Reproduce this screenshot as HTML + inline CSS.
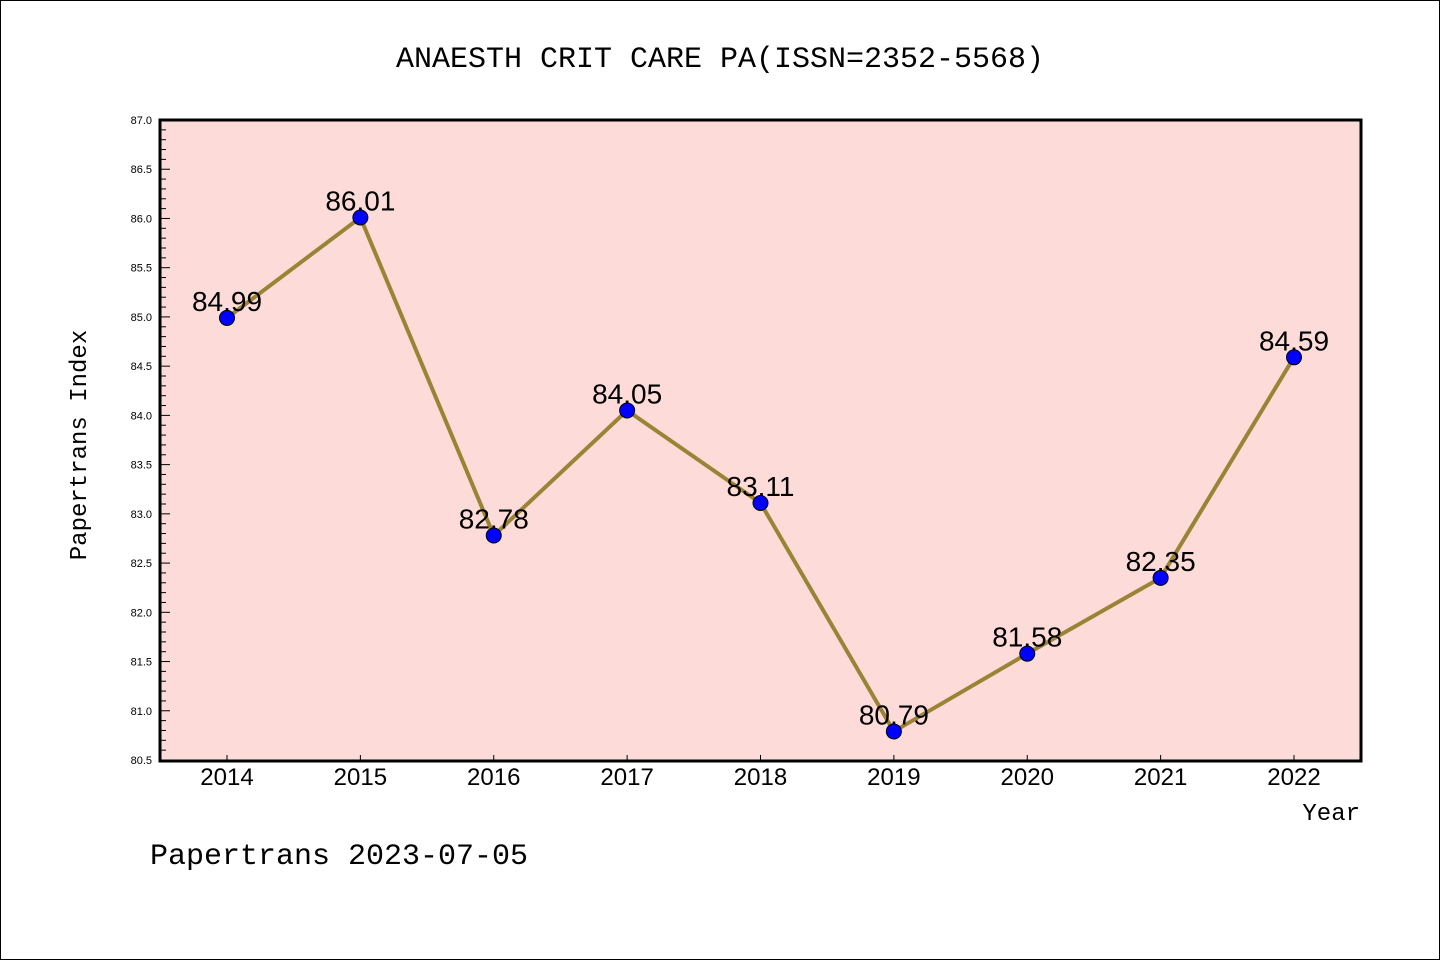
<!DOCTYPE html>
<html><head><meta charset="utf-8"><style>
body{margin:0;background:#fff}
svg text{font-family:"Liberation Mono","DejaVu Sans Mono",monospace}
</style></head><body>
<svg width="1440" height="960">
<rect x="0.5" y="0.5" width="1439" height="959" fill="#fff" stroke="#000"/>
<text x="720" y="67" text-anchor="middle" font-size="30">ANAESTH CRIT CARE PA(ISSN=2352-5568)</text>
<rect x="160" y="120" width="1201" height="641" fill="#fddbd8"/>
<g id="yaxis"></g>
<g id="xaxis"></g>
<g id="series"></g>
<rect x="160" y="120" width="1201" height="641" fill="none" stroke="#000" stroke-width="3"/>
<text x="86" y="445" text-anchor="middle" font-size="24" transform="rotate(-90 86 445)">Papertrans Index</text>
<text x="1360" y="820" text-anchor="end" font-size="24">Year</text>
<text x="150" y="864" font-size="30">Papertrans 2023-07-05</text>
</svg>
<script>
const years=["2014","2015","2016","2017","2018","2019","2020","2021","2022"];
const values=[84.99,86.01,82.78,84.05,83.11,80.79,81.58,82.35,84.59];
const valueLabels=["84.99","86.01","82.78","84.05","83.11","80.79","81.58","82.35","84.59"];
const yTicks=["80.5","81.0","81.5","82.0","82.5","83.0","83.5","84.0","84.5","85.0","85.5","86.0","86.5","87.0"];
const NS="http://www.w3.org/2000/svg";
const yMin=80.5,yMax=87.0,plotTop=120,plotBot=760,plotLeft=160;
const yScale=v=>plotBot-(v-yMin)/(yMax-yMin)*(plotBot-plotTop);
const xScale=i=>227+i*(1294-227)/(years.length-1);
function mk(tag,attrs,parent){const e=document.createElementNS(NS,tag);for(const k in attrs)e.setAttribute(k,attrs[k]);parent.appendChild(e);return e;}
const ya=document.getElementById('yaxis');
for(let k=0;k<=Math.round((yMax-yMin)*10);k++){
  const v=yMin+k*0.1;
  const major=k%5===0;
  const t=mk('line',{x1:plotLeft,x2:plotLeft+(major?10:6),y1:yScale(v),y2:yScale(v),stroke:'#000','stroke-width':1},ya);
  
  
}
yTicks.forEach(s=>{
  const t=mk('text',{x:152,y:yScale(parseFloat(s))+4,'text-anchor':'end','font-size':11,style:'font-family:"Liberation Sans",sans-serif'},ya);
  t.textContent=s;
  
  
});
const xa=document.getElementById('xaxis');
years.forEach((yr,i)=>{
  const l=mk('line',{x1:xScale(i),x2:xScale(i),y1:plotBot,y2:plotBot-5,stroke:'#000'},xa);
  
  
  const t=mk('text',{x:xScale(i),y:785,'text-anchor':'middle','font-size':24,style:'font-family:"Liberation Sans",sans-serif'},xa);
  t.textContent=yr;
  
  
});
const s=document.getElementById('series');
const line=mk('polyline',{points:values.map((v,i)=>xScale(i)+','+yScale(v)).join(' '),fill:'none',stroke:'#9b8336','stroke-width':4},s);


values.forEach((v,i)=>{
  const c=mk('circle',{cx:xScale(i),cy:yScale(v),r:7.5,fill:'#0000ff',stroke:'#000','stroke-width':1},s);
  
  
  const t=mk('text',{x:xScale(i),y:yScale(v)-7,'text-anchor':'middle','font-size':28,style:'font-family:"Liberation Sans",sans-serif'},s);
  t.textContent=valueLabels[i];
  
  
});
</script>
</body></html>
